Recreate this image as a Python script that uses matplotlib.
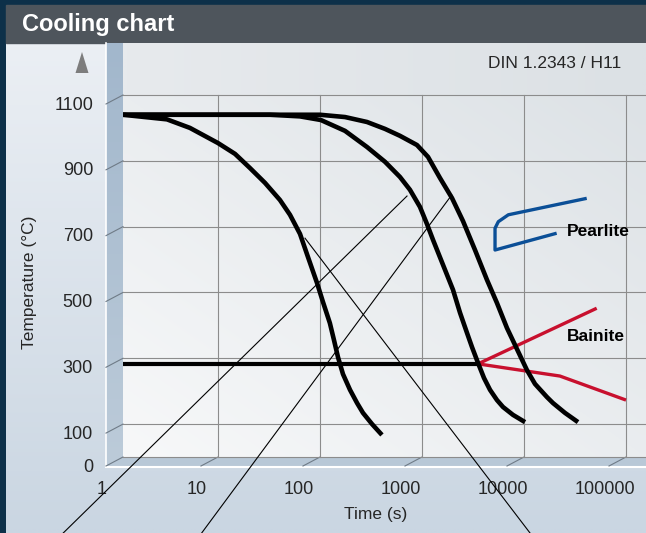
import matplotlib
matplotlib.use("Agg")

import matplotlib.pyplot as plt
import numpy as np
from matplotlib.colors import to_rgb
from matplotlib.patches import Polygon, Rectangle
from matplotlib.ticker import NullLocator
from matplotlib.transforms import offset_copy

# ---- values (time in s, temperature in degC) ----
FAST_TIME = [1.17, 1.92, 3.16, 5.31, 10, 14.7, 20.6, 28.9, 40.5, 50.8, 63.7, 76.2, 93.5,
             107, 125, 137, 150, 168, 197, 231, 264, 324, 405]
FAST_TEMP = [1040, 1033, 1026, 1000, 954, 921, 878, 833, 781, 736, 678, 608, 529,
             471, 407, 356, 304, 252, 204, 164, 134, 100, 67]

MID_TIME = [1.17, 32.4, 63.7, 102, 176, 289, 434, 608, 762, 955, 1119, 1282, 1607, 2014,
            2361, 2763, 3092, 3540, 4055, 4645, 5433, 6223, 7798, 10230]
MID_TEMP = [1040, 1040, 1035, 1024, 991, 942, 897, 851, 812, 760, 708, 660, 584, 508,
            438, 377, 334, 286, 240, 204, 173, 152, 128, 106]

SLOW_TIME = [1.17, 100, 176, 289, 434, 608, 893, 1145, 1500, 1968, 2523, 3310, 4339,
             5433, 6808, 8531, 10690, 12820, 16800, 19230, 25230, 33830]
SLOW_TEMP = [1040, 1040, 1033, 1018, 997, 976, 948, 912, 848, 787, 717, 629, 538,
             468, 392, 328, 264, 222, 182, 164, 134, 106]

MS_TIME = [1.17, 3540]
MS_TEMP = [283, 283]

BAINITE_UPPER_TIME = [3540, 51600]
BAINITE_UPPER_TEMP = [283, 452]
BAINITE_LOWER_TIME = [3540, 22500, 100000]
BAINITE_LOWER_TEMP = [283, 246, 173]

PEARLITE_TIME = [20900, 5200, 5200, 5600, 7020, 41200]
PEARLITE_TEMP = [680, 629, 695, 715, 736, 786]

LEADER_TIME = [[0.304, 713], [6.92, 1954], [71.3, 11460]]
LEADER_TEMP = [[-231, 793], [-231, 796], [665, -231]]

TEMP_TICKS = [0, 100, 300, 500, 700, 900, 1100]
TEMP_GRID = [100, 300, 500, 700, 900, 1100]
TIME_TICKS = [1, 10, 100, 1000, 10000, 100000]
TIME_TICK_LABELS = ["1", "10", "100", "1000", "10000", "100000"]
TIME_LIM = (10 ** 0.069, 10 ** 5.196)
TEMP_LIM = (0, 1100)

# ---- layout (pixels, y measured downwards) ----
W, H, DPI = 646, 533, 100
WALL_L, WALL_R, WALL_T, WALL_B = 123, 646, 95, 457
DEPTH_X, DEPTH_Y = 17, 9
PANEL_TOP = 43

BORDER = "#0d3049"
TITLE_BG = "#4e555c"
GRID = "#8c8c8c"
DIAG = "#6f7b87"
TEXT = "#262626"
RED = "#c8102e"
BLUE = "#0b4f97"

plt.rcParams["font.family"] = ["Liberation Sans", "DejaVu Sans"]


def gradient(ax, box, c0, c1, mode="v", zorder=0):
    """Fill box (x0, x1, y0, y1) with a linear gradient."""
    x0, x1, y0, y1 = box
    a, b = np.array(to_rgb(c0)), np.array(to_rgb(c1))
    t = np.linspace(0, 1, 64)
    if mode == "v":
        s = np.tile(t[:, None], (1, 2))
    elif mode == "h":
        s = np.tile(t[None, :], (2, 1))
    else:  # c0 bottom-left -> c1 top-right
        u, v = np.meshgrid(t, t)
        s = (u + (1 - v)) / 2
    img = a + (b - a) * s[..., None]
    ax.imshow(img, extent=(x0, x1, y1, y0), aspect="auto",
              interpolation="bilinear", zorder=zorder)


fig = plt.figure(figsize=(W / DPI, H / DPI), dpi=DPI)
fig.patch.set_facecolor(BORDER)

# background, walls and floor drawn in pixel coordinates
bg = fig.add_axes([0, 0, 1, 1])
bg.add_patch(Rectangle((6, 5), W - 6, PANEL_TOP - 5, color=TITLE_BG, zorder=1))
gradient(bg, (6, W, PANEL_TOP, H), "#ebeff4", "#cad6e2", "v", zorder=0)
gradient(bg, (WALL_L, W, PANEL_TOP, WALL_T), "#e7eaed", "#dce1e5", "h", zorder=1)
gradient(bg, (WALL_L, WALL_R, WALL_T, WALL_B), "#f7f8f9", "#dde2e6", "d", zorder=1)
gradient(bg, (WALL_L - DEPTH_X, WALL_L, PANEL_TOP, WALL_B + DEPTH_Y), "#a2b7cc", "#bccbd9", "v", zorder=2)
bg.add_patch(Polygon([(WALL_L, WALL_B), (W, WALL_B), (W, WALL_B + DEPTH_Y),
                      (WALL_L - DEPTH_X, WALL_B + DEPTH_Y)], closed=True,
                     facecolor="#b8c8d7", edgecolor="none", zorder=2))
bg.plot([WALL_L - DEPTH_X, WALL_L - DEPTH_X], [PANEL_TOP, WALL_B + DEPTH_Y + 1],
        color="white", lw=1.2, zorder=3)
bg.plot([WALL_L - DEPTH_X, W], [WALL_B + DEPTH_Y + 1, WALL_B + DEPTH_Y + 1],
        color="white", lw=1.5, zorder=3)
bg.add_patch(Polygon([(82, 52), (75.5, 73), (88.5, 73)], closed=True,
                     facecolor="#7d7d7d", edgecolor="none", zorder=3))
bg.text(22, 24, "Cooling chart", color="white", fontsize=17, fontweight="bold",
        ha="left", va="center", zorder=4)
bg.text(621, 64, "DIN 1.2343 / H11", color=TEXT, fontsize=12.5,
        ha="right", va="center", zorder=4)
bg.text(30, 282, "Temperature (°C)", color=TEXT, fontsize=12.5, rotation=90,
        ha="center", va="center", zorder=4)
bg.text(376, 515, "Time (s)", color=TEXT, fontsize=12.5, ha="center", va="center", zorder=4)

# chart on the back wall
ax = fig.add_axes([WALL_L / W, (H - WALL_B) / H, (WALL_R - WALL_L) / W, (WALL_B - WALL_T) / H])
ax.set_xscale("log")
ax.set_xlim(*TIME_LIM)
ax.set_ylim(*TEMP_LIM)
ax.patch.set_alpha(0)
for s in ax.spines.values():
    s.set_visible(False)
ax.xaxis.set_minor_locator(NullLocator())
ax.tick_params(which="both", length=0, labelbottom=False, labelleft=False)

for t in TIME_TICKS[1:]:
    ax.axvline(t, color=GRID, lw=0.8, zorder=1, clip_on=False)
for v in TEMP_GRID + [0]:
    ax.axhline(v, color=GRID, lw=0.8, zorder=1, clip_on=False)

# 3D depth ticks on the side wall and floor
to_px = ax.transData
for v in TEMP_TICKS:
    x, y = to_px.transform((TIME_LIM[0], v))
    bg.plot([x, x - DEPTH_X], [H - y, H - y + DEPTH_Y], color=DIAG, lw=0.8, zorder=3)
for t in TIME_TICKS[1:]:
    x, y = to_px.transform((t, 0))
    bg.plot([x, x - DEPTH_X], [H - y, H - y + DEPTH_Y], color=DIAG, lw=0.8, zorder=3)

# tick labels sit at the front edge
ylab_tr = offset_copy(ax.get_yaxis_transform(), fig=fig, x=-30, y=-10, units="dots")
for v in TEMP_TICKS:
    ax.text(0, v, str(v), transform=ylab_tr, ha="right", va="center",
            fontsize=13, color=TEXT, clip_on=False)
xlab_tr = offset_copy(ax.get_xaxis_transform(), fig=fig, x=-21, y=-32, units="dots")
for t, lab in zip(TIME_TICKS, TIME_TICK_LABELS):
    ax.text(max(t, TIME_LIM[0]), 0, lab, transform=xlab_tr, ha="center", va="center",
            fontsize=13, color=TEXT, clip_on=False)

# leader lines
for lt, lc in zip(LEADER_TIME, LEADER_TEMP):
    ax.plot(lt, lc, color="black", lw=0.8, zorder=4, clip_on=False)

# cooling curves and transformation zones
for tt, cc in [(FAST_TIME, FAST_TEMP), (MID_TIME, MID_TEMP), (SLOW_TIME, SLOW_TEMP)]:
    ax.plot(tt, cc, color="black", lw=3.3, zorder=5, solid_capstyle="butt",
            solid_joinstyle="round")
ax.plot(MS_TIME, MS_TEMP, color="black", lw=3.0, zorder=5, solid_capstyle="butt")
ax.plot(BAINITE_UPPER_TIME, BAINITE_UPPER_TEMP, color=RED, lw=2.4, zorder=4,
        solid_capstyle="butt")
ax.plot(BAINITE_LOWER_TIME, BAINITE_LOWER_TEMP, color=RED, lw=2.4, zorder=4,
        solid_capstyle="butt")
ax.plot(PEARLITE_TIME, PEARLITE_TEMP, color=BLUE, lw=2.4, zorder=4,
        solid_capstyle="butt", solid_joinstyle="round")
ax.text(26300, 684, "Pearlite", fontsize=12.5, fontweight="bold", color="black",
        ha="left", va="center", zorder=6)
ax.text(26300, 365, "Bainite", fontsize=12.5, fontweight="bold", color="black",
        ha="left", va="center", zorder=6)

bg.set_xlim(0, W)
bg.set_ylim(H, 0)
bg.axis("off")

fig.savefig("out.png", dpi=DPI, facecolor=fig.get_facecolor())
